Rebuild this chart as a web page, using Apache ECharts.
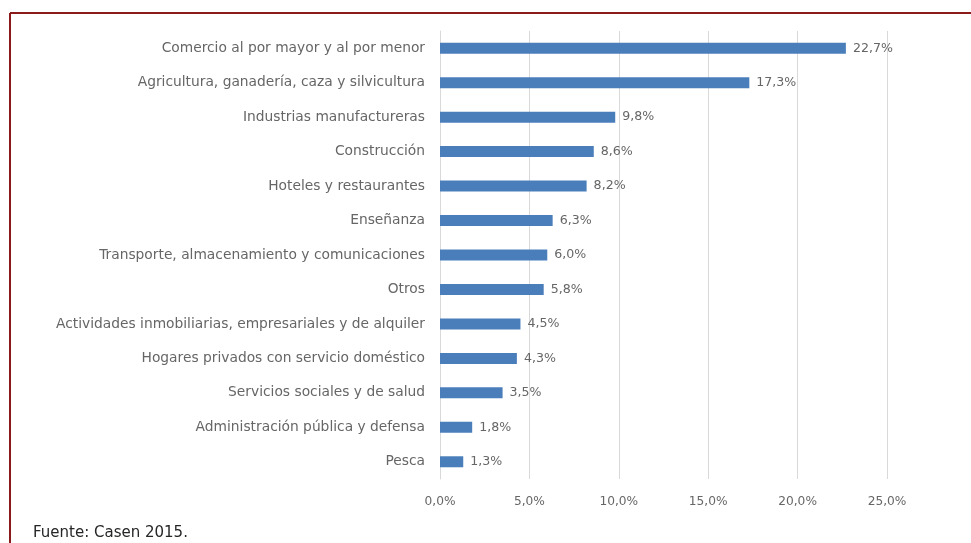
<!DOCTYPE html>
<html>
<head>
<meta charset="utf-8">
<script src="https://cdn.jsdelivr.net/npm/echarts@6/dist/echarts.min.js"></script>
<style>
html,body{margin:0;padding:0;background:#fff;}
#c{width:971px;height:543px;}
</style>
</head>
<body>
<div id="c"></div>
<script>
const categories = [
  "Comercio al por mayor y al por menor",
  "Agricultura, ganadería, caza y silvicultura",
  "Industrias manufactureras",
  "Construcción",
  "Hoteles y restaurantes",
  "Enseñanza",
  "Transporte, almacenamiento y comunicaciones",
  "Otros",
  "Actividades inmobiliarias, empresariales y de alquiler",
  "Hogares privados con servicio doméstico",
  "Servicios sociales y de salud",
  "Administración pública y defensa",
  "Pesca"
];
const values = [22.7, 17.3, 9.8, 8.6, 8.2, 6.3, 6.0, 5.8, 4.5, 4.3, 3.5, 1.8, 1.3];
const xTicks = [0, 5, 10, 15, 20, 25];
const sourceNote = "Fuente: Casen 2015.";

const fmt = v => v.toFixed(1).replace('.', ',') + '%';
const chart = echarts.init(document.getElementById('c'), null, {renderer: 'canvas'});
const FONT = 'DejaVu Sans';
chart.setOption({
  animation: false,
  backgroundColor: '#fff',
  grid: {left: 440, right: 84, top: 31, bottom: 64, containLabel: false},
  xAxis: {
    type: 'value',
    min: xTicks[0], max: xTicks[xTicks.length - 1], interval: 5,
    axisLine: {show: false},
    axisTick: {show: false},
    splitLine: {show: true, lineStyle: {color: '#d9d9d9', width: 1}},
    axisLabel: {formatter: fmt, color: '#666666', fontFamily: FONT, fontSize: 12.2, margin: 17}
  },
  yAxis: {
    type: 'category',
    data: categories,
    inverse: true,
    axisLine: {show: true, lineStyle: {color: '#d9d9d9'}},
    axisTick: {show: false},
    axisLabel: {color: '#666666', fontFamily: FONT, fontSize: 13.8, margin: 15}
  },
  series: [{
    type: 'bar',
    data: values,
    barWidth: 11,
    itemStyle: {color: '#4a7ebb'},
    label: {show: true, position: 'right', distance: 7, formatter: p => fmt(p.value),
      color: '#666666', fontFamily: FONT, fontSize: 12.6}
  }],
  graphic: [
    {type: 'line', shape: {x1: 10, y1: 13, x2: 971, y2: 13}, style: {stroke: '#8b1a1a', lineWidth: 2}},
    {type: 'line', shape: {x1: 10, y1: 13, x2: 10, y2: 543}, style: {stroke: '#8b1a1a', lineWidth: 2}},
    {type: 'text', left: 33, top: 526, style: {text: sourceNote, fill: '#262626', font: '15px "DejaVu Sans"'}}
  ]
});
</script>
</body>
</html>
